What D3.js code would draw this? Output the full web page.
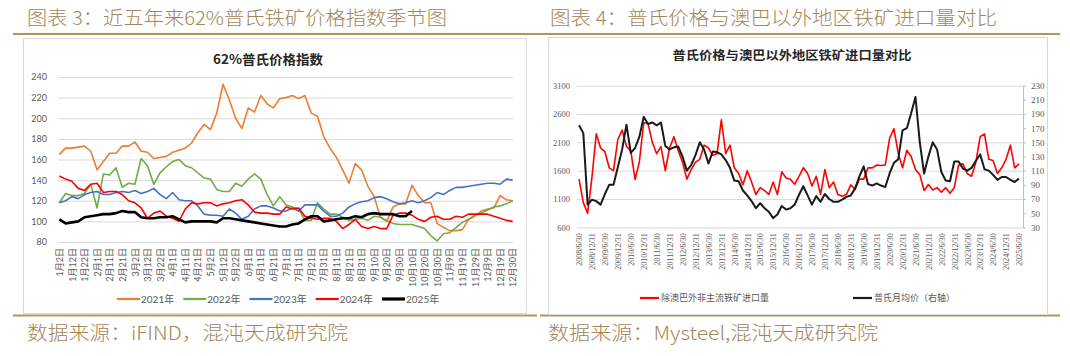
<!DOCTYPE html>
<html><head><meta charset="utf-8">
<script src="https://cdn.jsdelivr.net/npm/d3@7"></script>
<style>
body{margin:0;background:#fff;}
svg{display:block;font-family:"Noto Sans CJK SC","Noto Sans",sans-serif;}
</style>
</head><body>
<svg id="c" width="1070" height="356"></svg>
<script>
// ---------------- LEFT CHART DATA ----------------
const seasonLabels = ["1月2日","1月12日","1月22日","2月1日","2月11日","2月21日","3月2日","3月12日","3月22日","4月1日","4月11日","4月21日","5月2日","5月12日","5月22日","6月1日","6月11日","6月21日","7月1日","7月11日","7月21日","7月31日","8月11日","8月21日","8月31日","9月10日","9月20日","9月30日","10月10日","10月20日","10月30日","11月9日","11月19日","11月29日","12月9日","12月19日","12月30日"];
const seasonTicks = [80,100,120,140,160,180,200,220,240];
const yearNames = ["2021年","2022年","2023年","2024年","2025年"];
// values sampled every half label step (~5 days)
const s2021 = [165,171,171,172,173,168,150,158,166,166,
  173,173,177,168,167,161,162,163,167,169,
  171,176,186,194,189,205,233,218,200,190,
  210,206,222,214,210,219,220,222,219,222,
  205,202,182,171,162,150,137,156,150,134,
  124,104,100,114,117,117,135,125,118,118,
  98,94,91,91,92,102,105,110,112,113,
  125,121,120];
const s2022 = [118,127,125,125,127,136,113,146,145,152,
  133,137,136,161,154,136,147,153,158,160,
  154,152,147,142,141,131,129,129,137,134,
  141,146,141,126,115,124,116,114,112,101,
  101,118,112,107,107,104,101,102,103,101,
  105,104,101,98,97,97,97,95,93,86,
  81,88,89,94,99,102,106,108,111,114,
  115,117,120];
const s2023 = [118,120,124,122,126,128,129,126,126,128,
  129,128,130,127,129,132,126,122,128,121,
  120,120,115,107,106,106,105,112,108,102,
  105,112,115,115,113,110,110,113,110,116,
  116,116,110,105,105,108,114,117,119,120,
  123,124,122,119,117,118,120,118,120,123,
  128,126,130,133,133,134,135,136,137,137,
  136,141,140];
const s2024 = [144,141,139,132,130,136,137,128,129,129,
  126,120,118,113,103,108,110,105,103,100,
  112,118,117,118,118,115,117,118,120,121,
  116,109,108,108,107,107,114,112,113,105,
  103,102,103,103,100,93,97,102,95,93,
  95,93,93,106,108,108,106,102,100,104,
  105,102,102,105,104,107,107,107,107,105,
  103,101,100];
const s2025 = [102,98,99,100,104,105,106,107,107,108,
  110,109,109,104,103,103,104,104,105,102,
  99,100,100,100,100,99,103,103,102,101,
  100,99,98,97,96,95,95,97,98,102,
  105,105,100,101,102,103,103,105,104,107,
  108,107,107,107,105,105,110];

// ---------------- RIGHT CHART DATA ----------------
const halfYearLabels = ["2008/6/30","2008/12/31","2009/6/30","2009/12/31","2010/6/30","2010/12/31","2011/6/30","2011/12/31","2012/6/30","2012/12/31","2013/6/30","2013/12/31","2014/6/30","2014/12/31","2015/6/30","2015/12/31","2016/6/30","2016/12/31","2017/6/30","2017/12/31","2018/6/30","2018/12/31","2019/6/30","2019/12/31","2020/6/30","2020/12/31","2021/6/30","2021/12/31","2022/6/30","2022/12/31","2023/6/30","2023/12/31","2024/6/30","2024/12/31","2025/6/30"];
const volTicks = [600,1100,1600,2100,2600,3100];
const priceTicks = [30,50,70,90,110,130,150,170,190,210,230];
// every 2 months from 2008-06
const importVol = [1450,1035,850,1480,2250,2000,1937,1650,1600,2150,
  2315,2030,1950,1445,1760,2450,2430,2100,1900,2025,
  1600,2000,2200,1950,1750,1450,1620,1750,1800,2050,
  2000,1870,1900,2500,1900,2050,1650,1550,1350,1600,
  1400,1180,1300,1250,1180,1400,1180,1580,1470,1450,
  1360,1500,1650,1550,1330,1500,1180,1620,1300,1400,
  1180,1150,1180,1350,1270,1450,1450,1650,1650,1700,
  1690,1700,2170,2340,1910,1650,1960,1850,1620,1530,
  1250,1356,1260,1300,1220,1300,1200,1300,1700,1720,
  1550,1500,1750,2200,2250,1800,1780,1550,1650,1800,
  2050,1650,1720];
const plattsAvg = [174,163,62,69,67,62,77,90,90,115,
  140,175,135,142,158,186,176,178,174,178,
  145,140,143,144,130,110,118,132,150,140,
  120,137,136,133,125,114,96,95,82,75,
  67,57,64,57,52,43,48,60,55,57,
  62,76,88,75,62,74,66,77,70,66,
  66,69,73,75,85,102,116,91,89,92,
  89,87,106,121,126,167,170,191,214,150,
  106,130,150,140,108,96,95,123,123,113,
  110,114,124,133,112,110,104,97,101,101,
  97,94,99];
const rightLegend = ["除澳巴外非主流铁矿进口量","普氏月均价（右轴）"];

// ---------------- STYLE ----------------
const GOLD_TXT = "#a3865a", GOLD_LINE = "#b39659", AXT = "#595959", GRID = "#d9d9d9", BOX = "#d9d9d9";
const svg = d3.select("#c");
const CJK = '"Noto Sans CJK SC","Noto Sans",sans-serif';
const SANS = 'Lato,"Noto Sans CJK SC",sans-serif';
const SERIF = '"Liberation Serif","Noto Sans CJK SC",serif';

// headers & footers
svg.append("line").attr("x1",13).attr("x2",1060).attr("y1",34).attr("y2",34).attr("stroke",GOLD_LINE).attr("stroke-width",2);
svg.append("line").attr("x1",13).attr("x2",537).attr("y1",315.5).attr("y2",315.5).attr("stroke",GOLD_LINE).attr("stroke-width",2);
svg.append("line").attr("x1",540).attr("x2",1060).attr("y1",315.5).attr("y2",315.5).attr("stroke",GOLD_LINE).attr("stroke-width",2);
function hdr(x,y,t,len){
  svg.append("text").attr("x",x).attr("y",y).text(t).attr("font-size",19).attr("font-weight",300)
    .attr("fill",GOLD_TXT).attr("font-family",CJK).attr("textLength",len).attr("lengthAdjust","spacingAndGlyphs");
}
hdr(27,25,"图表 3：近五年来62%普氏铁矿价格指数季节图",420);
hdr(550,25,"图表 4：普氏价格与澳巴以外地区铁矿进口量对比",447);
hdr(27,340,"数据来源：iFIND，混沌天成研究院",321);
hdr(548,340,"数据来源：Mysteel,混沌天成研究院",330);

// ================= LEFT CHART =================
svg.append("rect").attr("x",23.5).attr("y",38.5).attr("width",503).attr("height",275).attr("fill","#fff").attr("stroke",BOX);
svg.append("text").attr("x",268).attr("y",64).attr("text-anchor","middle").attr("font-size",13).attr("font-weight","bold")
  .attr("fill","#262626").attr("font-family",CJK).text("62%普氏价格指数").attr("textLength",110).attr("lengthAdjust","spacingAndGlyphs");

const xL = d3.scaleLinear().domain([0, seasonLabels.length-1]).range([59.3, 512.7]);
const yL = d3.scaleLinear().domain([80,240]).range([242,77]);

const gyL = svg.append("g").attr("transform","translate(58,0)")
  .call(d3.axisLeft(yL).tickValues(seasonTicks).tickFormat(d3.format("d")).tickSize(-(513-58)).tickPadding(11));
gyL.select(".domain").remove();
gyL.selectAll(".tick line").attr("stroke",GRID);
gyL.selectAll(".tick text").attr("fill",AXT).attr("font-size",9).attr("font-family",SANS);

const gxL = svg.append("g").attr("transform","translate(0,242)")
  .call(d3.axisBottom(xL).tickValues(d3.range(seasonLabels.length)).tickFormat(i=>seasonLabels[i]).tickSize(0));
gxL.select(".domain").remove();
gxL.selectAll(".tick text").attr("transform","rotate(-90)").attr("text-anchor","end")
  .attr("x",-6).attr("y",0).attr("dy","0.35em").attr("fill",AXT).attr("font-size",9).attr("font-family",SANS);

const seasonSeries = [
  {name:yearNames[0], data:s2021, color:"#ED7D31", w:1.6},
  {name:yearNames[1], data:s2022, color:"#70AD47", w:1.6},
  {name:yearNames[2], data:s2023, color:"#4472C4", w:1.6},
  {name:yearNames[3], data:s2024, color:"#FF0000", w:1.6},
  {name:yearNames[4], data:s2025, color:"#000000", w:2.6}
];
const lineL = d3.line().x((d,i)=>xL(i/2)).y(d=>yL(d));
svg.append("g").selectAll("path").data(seasonSeries).join("path")
  .attr("d",s=>lineL(s.data)).attr("fill","none").attr("stroke",s=>s.color).attr("stroke-width",s=>s.w)
  .attr("stroke-linejoin","round");

const legL = svg.append("g").selectAll("g").data(seasonSeries).join("g")
  .attr("transform",(s,i)=>`translate(${117+i*66.25},299)`);
legL.append("line").attr("x1",0).attr("x2",23).attr("stroke",s=>s.color).attr("stroke-width",s=>s.w+0.6);
legL.append("text").attr("x",24).attr("dy","0.35em").attr("font-size",10).attr("fill",AXT).attr("font-family",SANS).text(s=>s.name);

// ================= RIGHT CHART =================
svg.append("rect").attr("x",548.5).attr("y",37.5).attr("width",499).attr("height",277).attr("fill","#fff").attr("stroke",BOX);
svg.append("text").attr("x",792).attr("y",60).attr("text-anchor","middle").attr("font-size",12).attr("font-weight","bold")
  .attr("fill","#262626").attr("font-family",CJK).text("普氏价格与澳巴以外地区铁矿进口量对比").attr("textLength",239).attr("lengthAdjust","spacingAndGlyphs");

const xR = d3.scaleLinear().domain([0, (halfYearLabels.length-1)*6]).range([579, 1019]);
const yV = d3.scaleLinear().domain([600,3100]).range([227.3,85.7]);
const yP = d3.scaleLinear().domain([30,230]).range([227.3,85.7]);

const gyV = svg.append("g").attr("transform","translate(577,0)")
  .call(d3.axisLeft(yV).tickValues(volTicks).tickFormat(d3.format("d")).tickSize(-(1023-577)).tickPadding(7));
gyV.select(".domain").remove();
gyV.selectAll(".tick line").attr("stroke",GRID);
gyV.selectAll(".tick text").attr("fill",AXT).attr("font-size",8.5).attr("font-family",SERIF);

const gyP = svg.append("g").attr("transform","translate(1023,0)")
  .call(d3.axisRight(yP).tickValues(priceTicks).tickFormat(d3.format("d")).tickSize(3).tickSizeOuter(0).tickPadding(5));
gyP.select(".domain").attr("stroke","#bfbfbf");
gyP.selectAll(".tick line").attr("stroke","#bfbfbf");
gyP.selectAll(".tick text").attr("fill",AXT).attr("font-size",9).attr("font-family",SERIF);

const gxR = svg.append("g").attr("transform","translate(0,227.3)")
  .call(d3.axisBottom(xR).tickValues(d3.range(halfYearLabels.length).map(j=>j*6)).tickFormat(m=>halfYearLabels[m/6]).tickSize(0));
gxR.select(".domain").remove();
gxR.selectAll(".tick text").attr("transform","rotate(-90)").attr("text-anchor","end")
  .attr("x",-6).attr("y",0).attr("dy","0.35em").attr("fill",AXT).attr("font-size",8).attr("font-family",SERIF);

const lineV = d3.line().x((d,i)=>xR(i*2)).y(d=>yV(d));
const lineP = d3.line().x((d,i)=>xR(i*2)).y(d=>yP(d));
svg.append("path").attr("d",lineV(importVol)).attr("fill","none").attr("stroke","#FF0000").attr("stroke-width",1.6).attr("stroke-linejoin","round");
svg.append("path").attr("d",lineP(plattsAvg)).attr("fill","none").attr("stroke","#1a1a1a").attr("stroke-width",2).attr("stroke-linejoin","round");

const legR = [{t:rightLegend[0],c:"#FF0000",x:640},{t:rightLegend[1],c:"#1a1a1a",x:853}];
const lg = svg.append("g").selectAll("g").data(legR).join("g").attr("transform",d=>`translate(${d.x},298)`);
lg.append("line").attr("x1",0).attr("x2",19).attr("stroke",d=>d.c).attr("stroke-width",2.2);
lg.append("text").attr("x",21).attr("dy","0.35em").attr("font-size",9).attr("fill",AXT).attr("font-family",CJK).text(d=>d.t);
</script>
</body></html>
